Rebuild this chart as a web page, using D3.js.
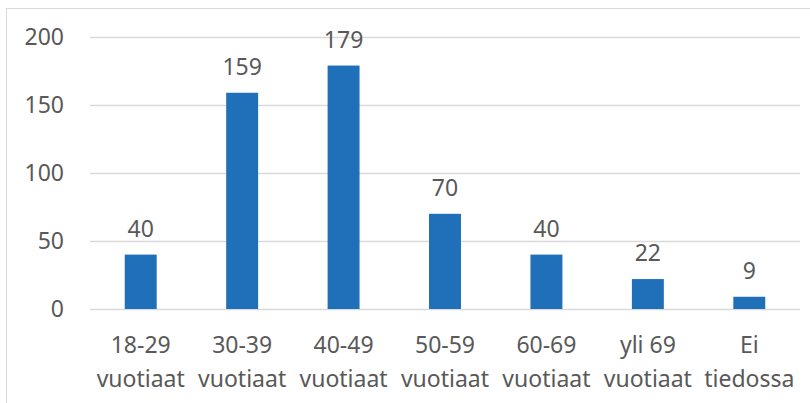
<!doctype html>
<html>
<head>
<meta charset="utf-8">
<style>
  body { margin: 0; background: #fff; }
  text { font-family: "Noto Sans", "Open Sans", sans-serif; fill: #595959; }
</style>
</head>
<body>
  <svg id="chart"></svg>
<script src="https://d3js.org/d3.v7.min.js"></script>
<script>
const categories = [["18-29", "vuotiaat"], ["30-39", "vuotiaat"], ["40-49", "vuotiaat"],
  ["50-59", "vuotiaat"], ["60-69", "vuotiaat"], ["yli 69", "vuotiaat"], ["Ei", "tiedossa"]];
const values = [40, 159, 179, 70, 40, 22, 9];
const yTicks = [0, 50, 100, 150, 200];

const width = 810, height = 403;
const svg = d3.select("#chart").attr("width", width).attr("height", height);

// chart area border (cut off at right/bottom)
svg.append("rect")
  .attr("x", 6.5).attr("y", 8.5)
  .attr("width", 900).attr("height", 500)
  .attr("fill", "none").attr("stroke", "#d9d9d9");

const plotLeft = 90, plotRight = 800, plotTop = 37, plotBottom = 309;

const x = d3.scaleBand()
  .domain(d3.range(categories.length))
  .range([plotLeft, plotRight])
  .paddingInner(0.685)
  .paddingOuter(0.3425);

const y = d3.scaleLinear().domain([0, 200]).range([plotBottom, plotTop]);

// gridlines
svg.append("g")
  .selectAll("line")
  .data(yTicks)
  .enter()
  .append("line")
  .attr("x1", plotLeft).attr("x2", plotRight)
  .attr("y1", d => Math.round(y(d)) + 0.5).attr("y2", d => Math.round(y(d)) + 0.5)
  .attr("stroke", "#d9d9d9").attr("stroke-width", 1.3);

// y tick labels
svg.append("g")
  .selectAll("text")
  .data(yTicks)
  .enter()
  .append("text")
  .attr("x", 64)
  .attr("y", d => y(d) + 8)
  .attr("text-anchor", "end")
  .attr("font-size", 23)
  .text(d => d);

// bars
svg.append("g")
  .selectAll("rect")
  .data(values)
  .enter()
  .append("rect")
  .attr("x", (d, i) => x(i))
  .attr("width", x.bandwidth())
  .attr("y", d => y(d))
  .attr("height", d => y(0) - y(d))
  .attr("fill", "#1f70b8");

// value labels
svg.append("g")
  .selectAll("text")
  .data(values)
  .enter()
  .append("text")
  .attr("x", (d, i) => x(i) + x.bandwidth() / 2)
  .attr("y", d => y(d) - 18)
  .attr("text-anchor", "middle")
  .attr("font-size", 23)
  .text(d => d);

// category labels
const cat = svg.append("g")
  .selectAll("text")
  .data(categories)
  .enter()
  .append("text")
  .attr("text-anchor", "middle")
  .attr("font-size", 23);
cat.append("tspan")
  .attr("x", (d, i) => x(i) + x.bandwidth() / 2)
  .attr("y", 353)
  .text(d => d[0]);
cat.append("tspan")
  .attr("x", (d, i) => x(i) + x.bandwidth() / 2)
  .attr("y", 387)
  .text(d => d[1]);
</script>
</body>
</html>
